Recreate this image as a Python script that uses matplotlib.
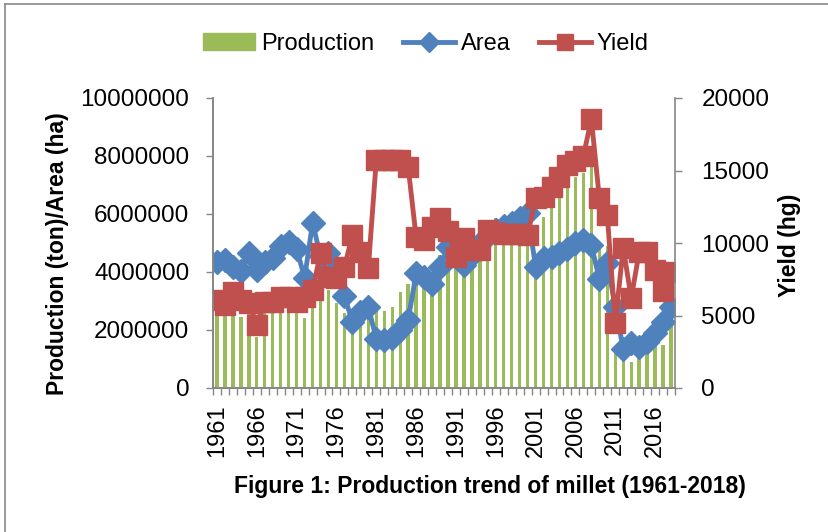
import numpy as np
import matplotlib.pyplot as plt
from matplotlib.lines import Line2D
from matplotlib.patches import Patch

years = list(range(1961, 2019))

# production in tons
production = [2590000, 2590000, 2550000, 2450000, 2700000, 1760000, 2590000, 2620000,
              2620000, 2620000, 2620000, 2410000, 2930000, 3030000, 3380000, 2930000,
              2590000, 2280000, 2550000, 2480000, 2700000, 2660000, 2790000, 3320000,
              3590000, 3830000, 3780000, 3500000, 4600000, 5000000, 4140000, 4310000,
              4450000, 4850000, 5400000, 5860000, 5900000, 5950000, 5900000, 5900000,
              4000000, 5900000, 6220000, 6570000, 6920000, 7290000, 7430000, 7690000,
              4860000, 4900000, 1300000, 1350000, 900000, 1300000, 1450000, 1550000,
              1480000, 2400000]

# area in ha
area = [4360000, 4430000, 4170000, 4030000, 4660000, 4070000, 4340000, 4500000,
        4900000, 5030000, 4810000, 3790000, 5690000, 4550000, 4650000, 4100000,
        3170000, 2280000, 2620000, 2790000, 1690000, 1660000, 1720000, 2000000,
        2340000, 3950000, 3830000, 3600000, 4170000, 4860000, 4600000, 4240000,
        4600000, 5000000, 5250000, 5450000, 5600000, 5700000, 5860000, 6050000,
        4170000, 4480000, 4520000, 4660000, 4800000, 5000000, 5120000, 4930000,
        3760000, 4320000, 2800000, 1350000, 1550000, 1410000, 1590000, 1900000,
        2280000, 2790000]

# yield in hg
yield_hg = [6070, 5700, 6620, 6070, 5860, 4340, 5930, 5930, 6280, 6280, 5930, 6280,
            6760, 9310, 7660, 7590, 8350, 10550, 9380, 8280, 15720, 15720, 15720, 15720,
            15240, 10410, 10200, 11070, 11700, 10830, 9030, 10340, 9520, 9520, 10900, 10720,
            10650, 10650, 10620, 10550, 13100, 13150, 13860, 14550, 15380, 15650, 16000, 18550,
            13100, 11930, 4500, 9680, 6200, 9350, 9380, 8140, 6700, 8000]

green = "#9BBB59"
blue = "#4F81BD"
red = "#C0504D"
grey = "#868686"

plt.rcParams["font.family"] = ["Liberation Sans", "DejaVu Sans"]
fs = 16.5
tfs = 17.5

W, H = 829, 532
fig = plt.figure(figsize=(W / 100, H / 100), dpi=100)
ax = fig.add_axes([213 / W, 1 - 388 / H, (675 - 213) / W, (388 - 98) / H])
ax2 = ax.twinx()

x = np.arange(len(years))
ax.bar(x, production, width=0.42, color=green, zorder=1)
ax.plot(x, area, color=blue, lw=3.5, marker="D", ms=12, zorder=2)
ax2.plot(x, yield_hg, color=red, lw=3.5, marker="s", ms=14.5)

ax.set_xlim(-0.5, len(years) - 0.5)
ax.set_ylim(0, 10000000)
ax2.set_ylim(0, 20000)

left_ticks = [0, 2000000, 4000000, 6000000, 8000000, 10000000]
right_ticks = [0, 5000, 10000, 15000, 20000]
ax.set_yticks(left_ticks)
ax.set_yticklabels([str(v) for v in left_ticks], fontsize=tfs)
ax2.set_yticks(right_ticks)
ax2.set_yticklabels([str(v) for v in right_ticks], fontsize=tfs)

ax.set_xticks(x[::5])
ax.set_xticklabels([str(years[i]) for i in x[::5]], rotation=90, fontsize=17)
ax.set_xticks(np.arange(-0.5, len(years), 1), minor=True)
ax.tick_params(axis="x", which="major", length=0, pad=12)
ax.tick_params(axis="x", which="minor", length=5, color=grey, width=1)
ax.tick_params(axis="y", length=5, color=grey, width=1, pad=12)
ax2.tick_params(axis="y", length=5, color=grey, width=1, pad=14)

for a in (ax, ax2):
    a.spines["top"].set_visible(False)
    for s in ("left", "right", "bottom"):
        a.spines[s].set_color(grey)
        a.spines[s].set_linewidth(1.2)
ax.spines["right"].set_visible(False)

fig.text(58 / W, 1 - 254 / H, "Production (ton)/Area (ha)", rotation=90,
         ha="center", va="center", fontsize=fs, fontweight="bold")
fig.text(790 / W, 1 - 245 / H, "Yield (hg)", rotation=90,
         ha="center", va="center", fontsize=fs, fontweight="bold")
fig.text(490 / W, 1 - 487 / H, "Figure 1: Production trend of millet (1961-2018)",
         ha="center", va="center", fontsize=fs, fontweight="bold")

handles = [Patch(color=green, label="Production"),
           Line2D([], [], color=blue, lw=3.5, marker="D", ms=10, label="Area"),
           Line2D([], [], color=red, lw=3.5, marker="s", ms=12, label="Yield")]
fig.legend(handles=handles, loc="center", bbox_to_anchor=(426 / W, 1 - 44 / H),
           ncol=3, frameon=False, fontsize=17, handlelength=2.2,
           handletextpad=0.25, columnspacing=1.2)

# chart border (top and left edges visible)
fig.add_artist(Line2D([5 / W, 1], [1 - 4 / H, 1 - 4 / H], color="#898989", lw=1.2))
fig.add_artist(Line2D([5 / W, 5 / W], [0, 1 - 4 / H], color="#898989", lw=1.2))

plt.savefig("out.png", dpi=100)
